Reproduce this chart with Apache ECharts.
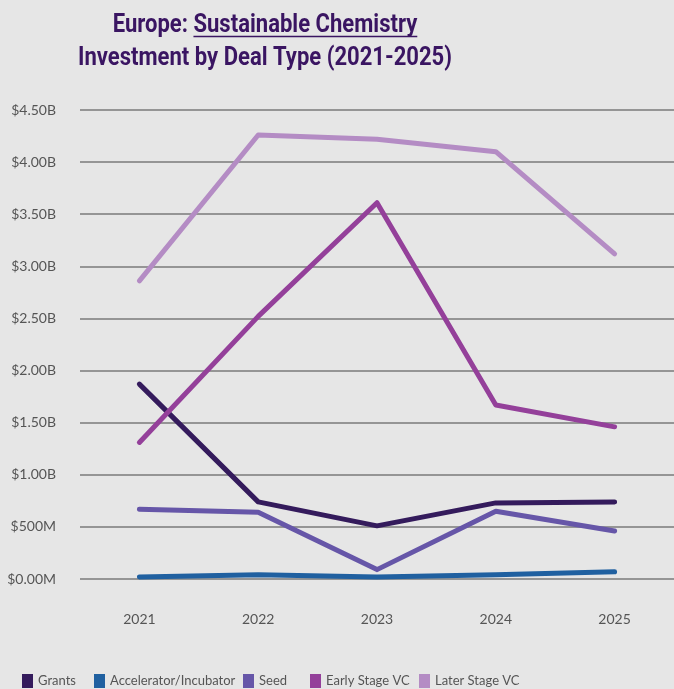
<!DOCTYPE html>
<html>
<head>
<meta charset="utf-8">
<script src="https://cdn.jsdelivr.net/npm/echarts@6/dist/echarts.min.js"></script>
<style>
html,body{margin:0;padding:0;background:#e6e6e6;}
#chart{width:674px;height:689px;}
</style>
</head>
<body>
<div id="chart"></div>
<script>
const years = ['2021', '2022', '2023', '2024', '2025'];
const seriesNames = ['Grants', 'Accelerator/Incubator', 'Seed', 'Early Stage VC', 'Later Stage VC'];
// values in billions USD
const grants = [1.87, 0.74, 0.51, 0.73, 0.74];
const accelerator = [0.02, 0.04, 0.02, 0.04, 0.07];
const seed = [0.67, 0.64, 0.09, 0.65, 0.46];
const earlyStageVC = [1.31, 2.52, 3.61, 1.67, 1.46];
const laterStageVC = [2.86, 4.26, 4.22, 4.10, 3.12];
const yTickLabels = ['$0.00M', '$500M', '$1.00B', '$1.50B', '$2.00B', '$2.50B', '$3.00B', '$3.50B', '$4.00B', '$4.50B'];
const titleLine1a = 'Europe: ';
const titleLine1b = 'Sustainable Chemistry';
const titleLine2 = 'Investment by Deal Type (2021-2025)';
const colors = ['#341b5c', '#2060a0', '#6656a8', '#94409a', '#b48cc4'];
const legendLefts = [22, 94, 243, 310, 419];

const titleColor = '#3a1562';
const titleFont = 'bold 26px Roboto';
const titleCenter = 265;
const ctx = document.createElement('canvas').getContext('2d');
ctx.font = titleFont;
const w2 = ctx.measureText(titleLine2).width;
const sx = 374 / w2;
const w1a = ctx.measureText(titleLine1a).width * sx;
const w1b = ctx.measureText(titleLine1b).width * sx;
const l1left = titleCenter - (w1a + w1b) / 2;

const chart = echarts.init(document.getElementById('chart'));
const allData = [grants, accelerator, seed, earlyStageVC, laterStageVC];
chart.setOption({
  backgroundColor: '#e6e6e6',
  animation: false,
  graphic: [{
    type: 'text',
    x: l1left, y: 25.5, scaleX: sx, originX: 0,
    style: { text: titleLine1a + titleLine1b, font: titleFont, fill: titleColor, align: 'left', verticalAlign: 'middle' }
  }, {
    type: 'text',
    x: titleCenter, y: 58, scaleX: sx,
    style: { text: titleLine2, font: titleFont, fill: titleColor, align: 'center', verticalAlign: 'middle' }
  }, {
    type: 'line',
    shape: { x1: l1left + w1a, y1: 36.5, x2: l1left + w1a + w1b, y2: 36.5 },
    style: { stroke: titleColor, lineWidth: 1.6 }
  }],
  legend: seriesNames.map(function (n, i) {
    return {
      bottom: 1,
      left: legendLefts[i],
      padding: 0,
      itemWidth: 11,
      itemHeight: 14,
      icon: 'rect',
      textStyle: { fontFamily: 'Lato', fontSize: 13, color: '#555' },
      data: [n]
    };
  }),
  grid: { left: 80, right: 0, top: 110, bottom: 110 },
  xAxis: {
    type: 'category',
    data: years,
    axisLine: { show: false },
    axisTick: { show: false },
    axisLabel: { margin: 33, fontFamily: 'Lato', fontSize: 14, color: '#555' }
  },
  yAxis: {
    type: 'value',
    min: 0,
    max: 4.5,
    interval: 0.5,
    axisLine: { show: false },
    axisTick: { show: false },
    splitLine: { lineStyle: { color: '#7a7a7a', width: 1.5 } },
    axisLabel: {
      margin: 24,
      fontFamily: 'Lato',
      fontSize: 14,
      color: '#555',
      formatter: function (v) { return yTickLabels[Math.round(v / 0.5)]; }
    }
  },
  series: seriesNames.map(function (name, i) {
    return {
      name: name,
      type: 'line',
      data: allData[i],
      symbol: 'none',
      color: colors[i],
      lineStyle: { width: 5, cap: 'round', join: 'round' }
    };
  })
});
</script>
</body>
</html>
